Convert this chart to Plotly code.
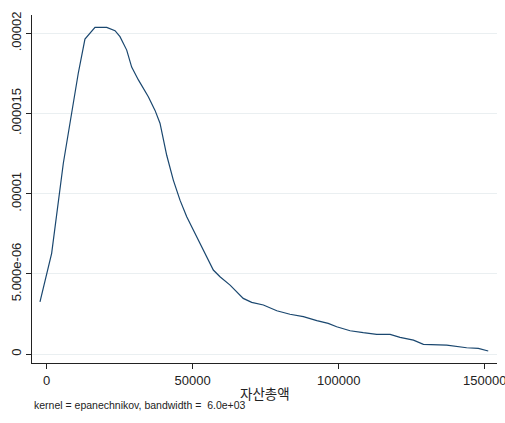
import plotly.graph_objects as go

# Kernel density estimate of 자산총액
asset_x = [-2300, 1700, 5700, 8560, 10800, 13100, 16540, 20550, 23400, 25100,
           27400, 29100, 31400, 34800, 37100, 38800, 41100, 43360, 45650, 47950,
           50200, 53640, 57060, 59350, 62800, 67300, 70200, 74200, 78800, 83300,
           87900, 92500, 96400, 99300, 103900, 108400, 113000, 117600, 121000,
           125600, 129000, 137000, 143800, 147800, 151200]
density_e6 = [3.26, 6.28, 11.9, 15.0, 17.5, 19.65, 20.38, 20.38, 20.17, 19.8,
              18.96, 17.9, 17.1, 16.05, 15.2, 14.4, 12.4, 10.85, 9.6, 8.57,
              7.74, 6.49, 5.24, 4.82, 4.3, 3.47, 3.22, 3.06, 2.7, 2.48,
              2.33, 2.08, 1.91, 1.7, 1.45, 1.33, 1.23, 1.23, 1.04,
              0.87, 0.6, 0.56, 0.39, 0.35, 0.19]
density = [v * 1e-6 for v in density_e6]

x_ticks = [0, 50000, 100000, 150000]
x_ticklabels = ["0", "50000", "100000", "150000"]
y_ticks = [0, 5e-6, 1e-5, 1.5e-5, 2e-5]
y_ticklabels = ["0", "5.000e-06", ".00001", ".000015", ".00002"]
x_title = "자산총액"
note = "kernel = epanechnikov, bandwidth =  6.0e+03"

x_range = [-5030, 154200]

fig = go.Figure()
fig.add_trace(go.Scatter(x=asset_x, y=density, mode="lines",
                         line=dict(color="#1a476f", width=1.2),
                         showlegend=False, hoverinfo="skip"))

font_main = "Liberation Sans, Arial, sans-serif"

fig.update_layout(
    width=505, height=423,
    margin=dict(l=32, r=8, t=15, b=60),
    paper_bgcolor="white", plot_bgcolor="white",
    font=dict(family=font_main, size=13, color="#222222"),
    xaxis=dict(range=x_range, tickvals=x_ticks, ticktext=x_ticklabels,
               showgrid=False, zeroline=False, showline=True, linecolor="#222222",
               linewidth=1, ticks="outside", ticklen=5, tickcolor="#222222",
               tickfont=dict(size=13), ticklabeloverflow="allow",
               automargin=False, fixedrange=True),
    yaxis=dict(range=[-5.6e-7, 21.15e-6], tickvals=y_ticks, ticktext=y_ticklabels,
               showgrid=True, gridcolor="#eaeff1", gridwidth=1, zeroline=False,
               showline=True, linecolor="#222222", linewidth=1,
               ticks="outside", ticklen=5, tickcolor="#222222", tickangle=-90,
               tickfont=dict(size=13), ticklabeloverflow="allow",
               automargin=False, fixedrange=True),
    annotations=[
        dict(text=x_title, xref="paper", yref="paper", x=0.5, y=-0.086,
             xanchor="center", yanchor="middle", showarrow=False,
             font=dict(family="Noto Sans CJK KR, sans-serif", size=13.5, color="#222222")),
        dict(text=note, xref="paper", yref="paper", x=0.0, y=-0.121,
             xanchor="left", yanchor="middle", showarrow=False,
             font=dict(family=font_main, size=10.5, color="#222222")),
    ],
)

fig.write_html("out.html")
